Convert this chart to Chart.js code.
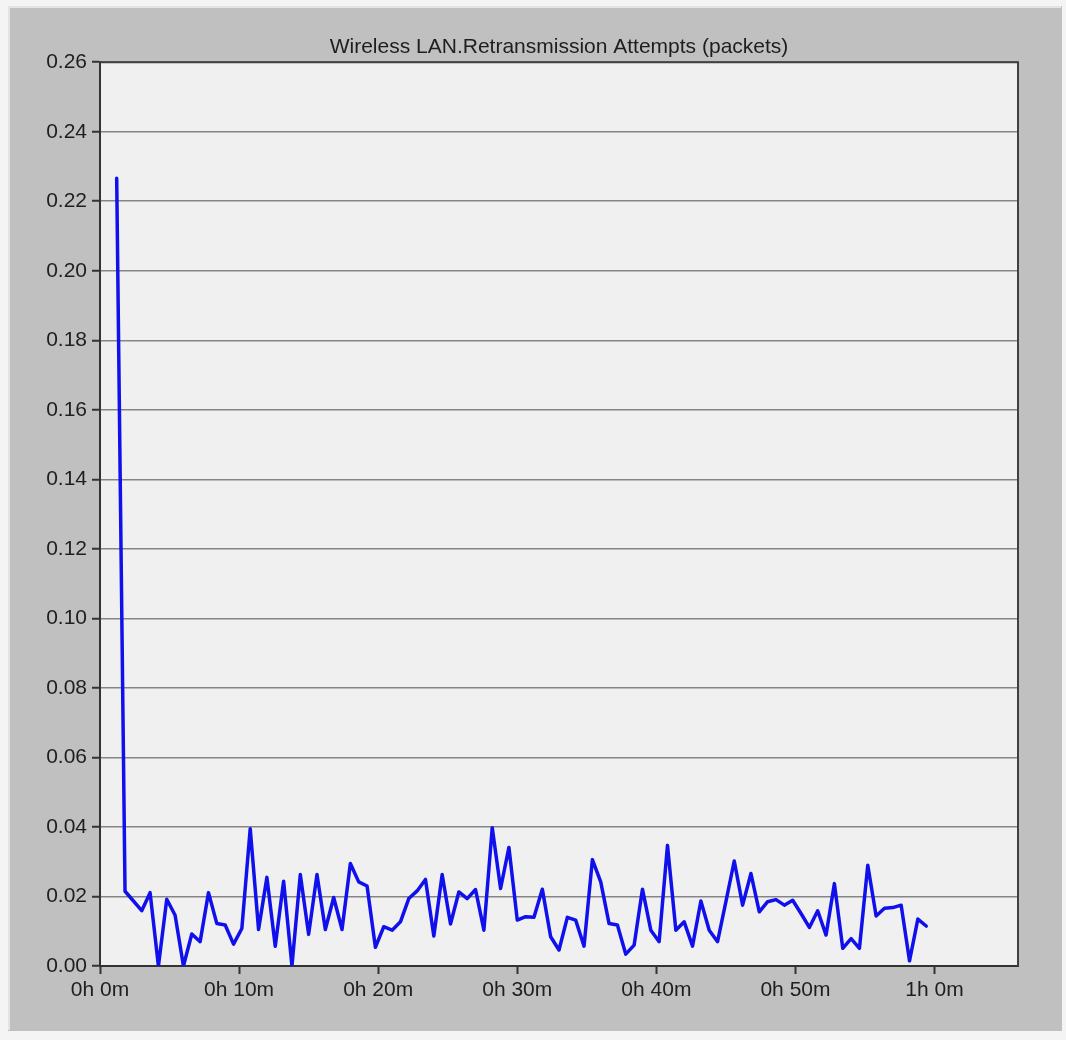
<!DOCTYPE html>
<html>
<head>
<meta charset="utf-8">
<title>Wireless LAN.Retransmission Attempts (packets)</title>
<script src="https://cdn.jsdelivr.net/npm/chart.js@4.4.0/dist/chart.umd.min.js"></script>
<style>
    body { margin: 0; background: #f4f4f4; }
    canvas { display: block; }
</style>
</head>
<body>
<canvas id="canvas" width="1066" height="1040"></canvas>
<script>
// sample times in minutes (one sample every 36 s)
const times = [
    1.2, 1.8, 3.0, 3.6, 4.2, 4.8, 5.4, 6.0, 6.6, 7.2, 7.8, 8.4, 9.0, 9.6, 10.2, 10.8, 11.4, 12.0, 12.6, 13.2,
    13.8, 14.4, 15.0, 15.6, 16.2, 16.8, 17.4, 18.0, 18.6, 19.2, 19.8, 20.4, 21.0, 21.6, 22.2, 22.8, 23.4, 24.0,
    24.6, 25.2, 25.8, 26.4, 27.0, 27.6, 28.2, 28.8, 29.4, 30.0, 30.6, 31.2, 31.8, 32.4, 33.0, 33.6, 34.2, 34.8,
    35.4, 36.0, 36.6, 37.2, 37.8, 38.4, 39.0, 39.6, 40.2, 40.8, 41.4, 42.0, 42.6, 43.2, 43.8, 44.4, 45.0, 45.6,
    46.2, 46.8, 47.4, 48.0, 48.6, 49.2, 49.8, 50.4, 51.0, 51.6, 52.2, 52.8, 53.4, 54.0, 54.6, 55.2, 55.8, 56.4,
    57.0, 57.6, 58.2, 58.8, 59.4
];

const retransmissions = [
    0.2266, 0.0215, 0.0159, 0.0211, 0.0000, 0.0192, 0.0146, 0.0000, 0.0092, 0.0070, 0.0211, 0.0122, 0.0118, 0.0063, 0.0108, 0.0395, 0.0105, 0.0255, 0.0057, 0.0244,
    0.0000, 0.0263, 0.0091, 0.0263, 0.0105, 0.0197, 0.0105, 0.0295, 0.0242, 0.0230, 0.0054, 0.0113, 0.0103, 0.0127, 0.0194, 0.0216, 0.0249, 0.0086,
    0.0263, 0.0121, 0.0213, 0.0194, 0.0220, 0.0103, 0.0398, 0.0223, 0.0341, 0.0132, 0.0142, 0.0140, 0.0221, 0.0084, 0.0046, 0.0140, 0.0132, 0.0057,
    0.0306, 0.0242, 0.0122, 0.0118, 0.0034, 0.0060, 0.0221, 0.0103, 0.0070, 0.0347, 0.0103, 0.0127, 0.0057, 0.0187, 0.0103, 0.0070, 0.0185, 0.0302,
    0.0175, 0.0266, 0.0156, 0.0185, 0.0191, 0.0175, 0.0189, 0.0151, 0.0111, 0.0159, 0.0089, 0.0237, 0.0051, 0.0079, 0.0051, 0.0290, 0.0144, 0.0166,
    0.0168, 0.0175, 0.0015, 0.0135, 0.0115
];

const yTicks = { min: 0, max: 0.26, step: 0.02 };
const xTicks = { min: 0, max: 66, step: 10 };

const points = times.map((t, i) => ({ x: t, y: retransmissions[i] }));

const panel = {
    id: 'panel',
    beforeDraw(chart) {
        const ctx = chart.ctx;
        const a = chart.chartArea;
        ctx.save();
        ctx.fillStyle = '#f4f4f4';
        ctx.fillRect(0, 0, chart.width, chart.height);
        ctx.fillStyle = '#c0c0c0';
        ctx.fillRect(8, 6, 1054, 1025);
        ctx.strokeStyle = '#e4e4e4';
        ctx.lineWidth = 2;
        ctx.beginPath();
        ctx.moveTo(9, 1030);
        ctx.lineTo(9, 7);
        ctx.lineTo(1061, 7);
        ctx.stroke();
        ctx.fillStyle = '#f0f0f0';
        ctx.fillRect(a.left, a.top, a.right - a.left, a.bottom - a.top);
        ctx.restore();
    },
    afterDraw(chart) {
        const ctx = chart.ctx;
        const a = chart.chartArea;
        ctx.save();
        ctx.strokeStyle = '#404040';
        ctx.lineWidth = 2;
        ctx.beginPath();
        ctx.moveTo(a.left, a.top);
        ctx.lineTo(a.right, a.top);
        ctx.lineTo(a.right, a.bottom);
        ctx.stroke();
        ctx.restore();
    }
};

const myChart = new Chart(
    document.getElementById('canvas'),
    {
        type: 'line',
        data: {
            datasets: [
                {
                    data: points,
                    label: "Retransmission Attempts",
                    borderColor: "#1010ec",
                    borderWidth: 3.5,
                    borderJoinStyle: 'round',
                    borderCapStyle: 'round',
                    pointRadius: 0,
                    tension: 0,
                    fill: false
                }
            ]
        },
        options: {
            responsive: false,
            animation: false,
            layout: {
                padding: { left: 0, right: 48, top: 0, bottom: 0 }
            },
            plugins: {
                legend: { display: false },
                tooltip: { enabled: false },
                title: {
                    display: true,
                    fullSize: false,
                    text: "Wireless LAN.Retransmission Attempts (packets)",
                    color: "#1e1e1e",
                    font: { family: "'Liberation Sans', Arial, sans-serif", size: 21, weight: 'normal' },
                    padding: { top: 35, bottom: 2 }
                }
            },
            scales: {
                x: {
                    type: 'linear',
                    min: xTicks.min,
                    max: xTicks.max,
                    afterFit: (scale) => { scale.height = 74; },
                    ticks: {
                        stepSize: xTicks.step,
                        includeBounds: false,
                        maxRotation: 0,
                        padding: 4,
                        color: "#1e1e1e",
                        font: { family: "'Liberation Sans', Arial, sans-serif", size: 21 },
                        callback: (v) => Math.floor(v / 60) + 'h ' + (v % 60) + 'm'
                    },
                    grid: {
                        drawOnChartArea: false,
                        tickLength: 8,
                        tickColor: '#333333',
                        tickWidth: 2
                    },
                    border: { color: '#333333', width: 2 }
                },
                y: {
                    min: yTicks.min,
                    max: yTicks.max,
                    afterFit: (scale) => { scale.width = 100; },
                    ticks: {
                        stepSize: yTicks.step,
                        padding: 5,
                        color: "#1e1e1e",
                        font: { family: "'Liberation Sans', Arial, sans-serif", size: 21 },
                        callback: (v) => v.toFixed(2)
                    },
                    grid: {
                        color: '#858585',
                        lineWidth: 1.5,
                        tickLength: 8,
                        tickColor: '#333333',
                        tickWidth: 2
                    },
                    border: { color: '#333333', width: 2 }
                }
            }
        },
        plugins: [panel]
    }
);
</script>
</body>
</html>
